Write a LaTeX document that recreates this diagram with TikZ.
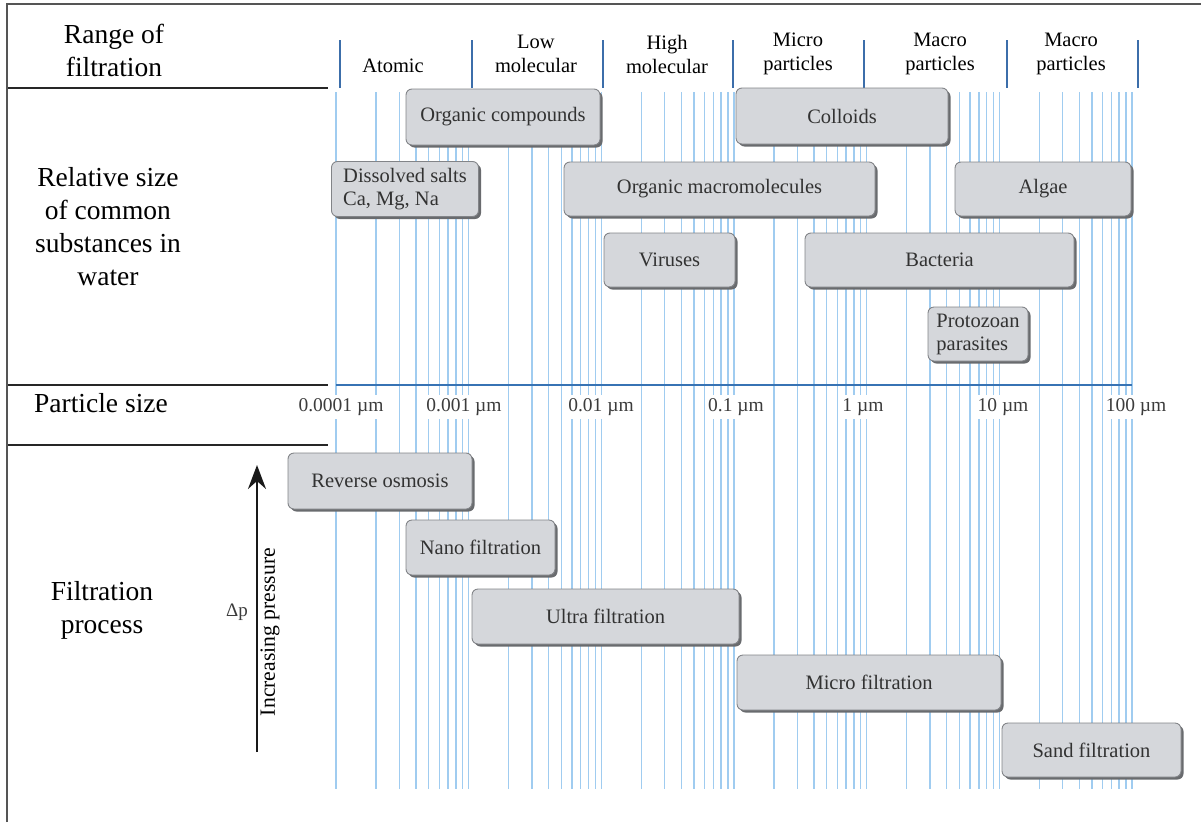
\documentclass[tikz,border=0pt]{standalone}
\usepackage{fontspec}
\setmainfont{Liberation Serif}
\usetikzlibrary{arrows.meta,shadows}
\definecolor{gridblue}{RGB}{160,204,240}
\definecolor{divblue}{RGB}{60,110,170}
\definecolor{axisblue}{RGB}{55,115,180}
\definecolor{boxfill}{RGB}{213,215,219}
\definecolor{boxedge}{RGB}{130,132,136}
\definecolor{boxshadow}{RGB}{105,107,110}
\definecolor{boxtext}{RGB}{50,50,50}
\definecolor{axtext}{RGB}{60,60,60}
\definecolor{framegray}{RGB}{85,85,85}
\tikzset{
  gridline/.style={draw=gridblue, line width=1.4pt},
  divline/.style={draw=divblue, line width=1.2pt},
  sepline/.style={draw=black!85, line width=1.1pt},
  sidelabel/.style={align=center, font=\fontsize{27.5}{33}\selectfont, text=black, inner sep=0pt},
  headlabel/.style={align=center, font=\fontsize{20.5}{24}\selectfont, text=black, inner sep=0pt},
  axlabel/.style={font=\fontsize{19.5}{22}\selectfont, text=axtext, fill=white, inner xsep=1pt, inner ysep=3pt},
  sbox/.style={rounded corners=6pt, fill=boxfill, draw=boxedge, line width=0.9pt,
    text=boxtext, font=\fontsize{20.5}{23}\selectfont, align=left, inner sep=0pt,
    drop shadow={shadow xshift=2.5pt, shadow yshift=-2.5pt, fill=boxshadow, opacity=1}},
}
\begin{document}
\begin{tikzpicture}[x=1pt,y=-1pt]
\useasboundingbox (0,0) rectangle (1201,822);
% frame (left and top edges)
\draw[framegray, line width=2pt] (7,822) -- (7,4) -- (1201,4);
% left separators
\draw[sepline] (8,88) -- (328,88);
\draw[sepline] (8,385) -- (328,385);
\draw[sepline] (8,445) -- (328,445);
% grid lines
\foreach \k in {0,...,5}{
  \foreach \m in {1,...,9}{
    \pgfmathsetmacro\gx{336+132.67*\k+132.67*ln(\m)/ln(10)}
    \draw[gridline] (\gx,92) -- (\gx,789);
  }
}
\draw[gridline] (1132,92) -- (1132,789);
% header dividers
\foreach \dx in {340,472,603,733,864,1007,1138}{
  \draw[divline] (\dx,40) -- (\dx,88);
}
% axis line
\coordinate (axL) at (336,385);
\coordinate (axR) at (1132,385);
\draw[axisblue, line width=2.4pt] (axL) -- (axR);
% side labels
\node[sidelabel] (lrange) at (114,50) {Range of\\filtration};
\node[sidelabel] (lrel) at (108,227) {Relative size\\of common\\substances in\\water};
\node[sidelabel] (lpart) at (101,403) {Particle size};
\node[sidelabel] (lproc) at (102,610) {Filtration\\process};
% header labels
\node[headlabel] (hatom) at (393,66) {Atomic};
\node[headlabel] (hlow) at (536,54) {Low\\molecular};
\node[headlabel] (hhigh) at (667,54) {High\\molecular};
\node[headlabel] (hmicro) at (798,54) {Micro\\particles};
\node[headlabel] (hmacroa) at (940,54) {Macro\\particles};
\node[headlabel] (hmacrob) at (1071,54) {Macro\\particles};
% axis labels
\node[axlabel] (a0) at (341,407) {0.0001 µm};
\node[axlabel] (a1) at (464,407) {0.001 µm};
\node[axlabel] (a2) at (601,407) {0.01 µm};
\node[axlabel] (a3) at (736,407) {0.1 µm};
\node[axlabel] (a4) at (863,407) {1 µm};
\node[axlabel] (a5) at (1003,407) {10 µm};
\node[axlabel] (a6) at (1136,407) {100 µm};
% substance boxes
\node[sbox, minimum width=194pt, minimum height=56pt] (orgc) at (503,117) {Organic compounds};
\node[sbox, minimum width=212pt, minimum height=56pt] (coll) at (842,116) {Colloids};
\node[sbox, minimum width=147pt, minimum height=55pt] (salts) at (405,189) {Dissolved salts\\Ca, Mg, Na};
\node[sbox, minimum width=311pt, minimum height=54pt] (orgm) at (719.5,189) {Organic macromolecules};
\node[sbox, minimum width=176pt, minimum height=54pt] (algae) at (1043,189) {Algae};
\node[sbox, minimum width=131pt, minimum height=54pt] (vir) at (669.5,260) {Viruses};
\node[sbox, minimum width=269pt, minimum height=54pt] (bact) at (939.5,260) {Bacteria};
\node[sbox, minimum width=100pt, minimum height=54pt] (proto) at (978,334) {Protozoan\\parasites};
% filtration boxes
\node[sbox, minimum width=184pt, minimum height=56pt] (ro) at (380,481) {Reverse osmosis};
\node[sbox, minimum width=149pt, minimum height=55pt] (nano) at (480.5,547.5) {Nano filtration};
\node[sbox, minimum width=267pt, minimum height=55pt] (ultra) at (605.5,616.5) {Ultra filtration};
\node[sbox, minimum width=264pt, minimum height=55pt] (micro) at (869,682.5) {Micro filtration};
\node[sbox, minimum width=179pt, minimum height=54pt] (sand) at (1091.5,750) {Sand filtration};
% pressure arrow
\coordinate (pbot) at (257,752);
\coordinate (ptop) at (257,465);
\draw[black!90, line width=2.4pt, -{Stealth[length=24pt,width=18pt,inset=8pt]}] (pbot) -- (ptop);
\node[rotate=90, font=\fontsize{21.7}{24}\selectfont, text=black, inner sep=0pt] (incp) at (270,632) {Increasing pressure};
\node[font=\fontsize{19}{22}\selectfont, text=axtext, inner sep=0pt] (dp) at (237,612) {Δp};
\end{tikzpicture}
\end{document}
